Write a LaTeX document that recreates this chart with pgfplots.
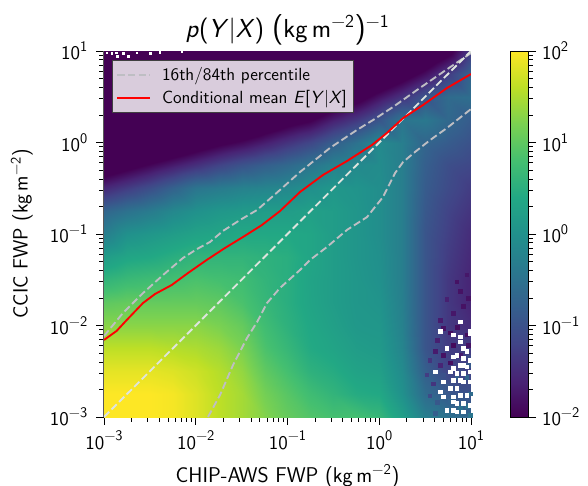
\documentclass[border=0pt]{standalone}
\usepackage{pgfplots}
\pgfplotsset{compat=1.18}
\renewcommand{\familydefault}{\sfdefault}
\definecolor{pct}{RGB}{190,190,195}
\definecolor{dia}{RGB}{222,228,222}
\newcommand{\tenp}[1]{10\raisebox{0.42em}{\fontsize{11}{11}\selectfont #1}}
\pgfplotsset{colormap={vird}{rgb255(0)=(68,1,84) rgb255(15)=(68,1,84) rgb255(19)=(72,36,117) rgb255(23)=(65,68,135) rgb255(27)=(53,95,141) rgb255(31)=(42,120,142) rgb255(35)=(33,145,140) rgb255(39)=(34,168,132) rgb255(43)=(68,191,112) rgb255(47)=(122,209,81) rgb255(51)=(189,223,38) rgb255(55)=(253,231,37)}}
\begin{document}
\begin{tikzpicture}
\path[use as bounding box] (-78pt,-51pt) rectangle (363pt,312.75pt);
\begin{axis}[
  name=main,
  scale only axis,
  width=275.25pt,height=274.5pt,
  xmode=log,ymode=log,
  xmin=1e-3,xmax=10,ymin=1e-3,ymax=10,
  xtick={1e-3,1e-2,1e-1,1,10},
  ytick={1e-3,1e-2,1e-1,1,10},
  xticklabels={\tenp{−3},\tenp{−2},\tenp{−1},\tenp{0},\tenp{1}},
  yticklabels={\tenp{−3},\tenp{−2},\tenp{−1},\tenp{0},\tenp{1}},
  axis x line*=bottom,axis y line*=left,
  axis line style={gray!70!black,-,line width=0.8pt},
  tick align=outside,
  major tick length=6pt,minor tick length=3.5pt,
  every tick/.style={black,line width=0.6pt},
  font=\sffamily\fontsize{14.5}{17}\selectfont,
  yticklabel style={xshift=-3pt},
  xticklabel style={yshift=-1pt},
  title={\textit{p}(\textit{Y}|\textit{X})\ {\fontsize{23}{23}\selectfont(}kg\,m\textsuperscript{−2}{\fontsize{23}{23}\selectfont)}\textsuperscript{−1}},
  title style={font=\sffamily\fontsize{19.5}{21}\selectfont,yshift=-5pt},
  xlabel={CHIP-AWS FWP (kg\,m\textsuperscript{−2})},
  ylabel={CCIC FWP (kg\,m\textsuperscript{−2})},
  xlabel style={font=\sffamily\fontsize{16}{18}\selectfont},
  ylabel style={font=\sffamily\fontsize{15.5}{17}\selectfont},
  xlabel shift=4pt,
  ylabel shift=6pt,
  colormap name=vird,
  point meta min=-3.5,point meta max=2,
  colorbar,
  colorbar style={
    at={(1.1063,0)},anchor=south west,
    width=13.5pt,
    ymin=-2,ymax=2,
    ytick={-2,-1,0,1,2},
    yticklabels={\tenp{−2},\tenp{−1},\tenp{0},\tenp{1},\tenp{2}},
    minor ytick={-1.699,-1.523,-1.398,-1.301,-1.222,-1.155,-1.097,-1.046,-0.699,-0.523,-0.398,-0.301,-0.222,-0.155,-0.097,-0.046,0.301,0.477,0.602,0.699,0.778,0.845,0.903,0.954,1.301,1.477,1.602,1.699,1.778,1.845,1.903,1.954},
    major tick length=6pt,minor tick length=3.5pt,
    tick align=outside,
    yticklabel pos=right,
    ytick pos=right,
    axis line style={black,line width=0.6pt},
    yticklabel style={font=\sffamily\fontsize{14.5}{17}\selectfont,xshift=1pt},
  },
  legend style={at={(0.022,0.975)},anchor=north west,
    fill=white,fill opacity=0.8,text opacity=1,draw=black!75,
    line width=0.6pt,rounded corners=0pt,
    font=\sffamily\fontsize{13.2}{15}\selectfont,
    row sep=2pt,inner sep=3pt},
  legend cell align=left,
  legend image post style={xscale=1.45},
]
\addlegendimage{pct,dash pattern=on 5.5pt off 2.5pt,line width=1.4pt}
\addlegendentry{\hspace*{6pt}16th/84th percentile}
\addlegendimage{red,line width=1.4pt}
\addlegendentry{\hspace*{6pt}Conditional mean \textit{E}[\textit{Y}|\textit{X}]}
\addplot[surf,shader=interp,mesh/cols=17,mesh/ordering=x varies,point meta=\thisrow{m},forget plot]
 table[x=x,y=y,row sep=\\]{
x y m\\
1e-3 1e-3 2\\ 1.78e-3 1e-3 2\\ 3.16e-3 1e-3 2\\ 5.62e-3 1e-3 1.95\\ 0.01 1e-3 1.8\\ 0.0178 1e-3 1.6\\ 0.0316 1e-3 1.45\\ 0.0562 1e-3 1.25\\ 0.1 1e-3 1.05\\ 0.178 1e-3 0.9\\ 0.316 1e-3 0.8\\ 0.562 1e-3 0.8\\ 1 1e-3 0.65\\ 1.78 1e-3 0.25\\ 3.16 1e-3 -0.3\\ 5.62 1e-3 -0.5\\ 10 1e-3 -0.7\\
1e-3 1.78e-3 2\\ 1.78e-3 1.78e-3 2\\ 3.16e-3 1.78e-3 2\\ 5.62e-3 1.78e-3 1.95\\ 0.01 1.78e-3 1.8\\ 0.0178 1.78e-3 1.6\\ 0.0316 1.78e-3 1.45\\ 0.0562 1.78e-3 1.15\\ 0.1 1.78e-3 0.95\\ 0.178 1.78e-3 0.75\\ 0.316 1.78e-3 0.6\\ 0.562 1.78e-3 0.45\\ 1 1.78e-3 0.4\\ 1.78 1.78e-3 0\\ 3.16 1.78e-3 -0.6\\ 5.62 1.78e-3 -0.9\\ 10 1.78e-3 -1\\
1e-3 3.16e-3 1.85\\ 1.78e-3 3.16e-3 1.85\\ 3.16e-3 3.16e-3 1.85\\ 5.62e-3 3.16e-3 1.8\\ 0.01 3.16e-3 1.7\\ 0.0178 3.16e-3 1.55\\ 0.0316 3.16e-3 1.35\\ 0.0562 3.16e-3 1\\ 0.1 3.16e-3 0.8\\ 0.178 3.16e-3 0.55\\ 0.316 3.16e-3 0.45\\ 0.562 3.16e-3 0.3\\ 1 3.16e-3 0.25\\ 1.78 3.16e-3 -0.1\\ 3.16 3.16e-3 -0.8\\ 5.62 3.16e-3 -1.2\\ 10 3.16e-3 -1.2\\
1e-3 5.62e-3 1.6\\ 1.78e-3 5.62e-3 1.6\\ 3.16e-3 5.62e-3 1.6\\ 5.62e-3 5.62e-3 1.55\\ 0.01 5.62e-3 1.5\\ 0.0178 5.62e-3 1.4\\ 0.0316 5.62e-3 1.2\\ 0.0562 5.62e-3 0.85\\ 0.1 5.62e-3 0.65\\ 0.178 5.62e-3 0.42\\ 0.316 5.62e-3 0.32\\ 0.562 5.62e-3 0.2\\ 1 5.62e-3 0.15\\ 1.78 5.62e-3 -0.2\\ 3.16 5.62e-3 -0.95\\ 5.62 5.62e-3 -1.3\\ 10 5.62e-3 -1.3\\
1e-3 0.01 1.3\\ 1.78e-3 0.01 1.3\\ 3.16e-3 0.01 1.3\\ 5.62e-3 0.01 1.3\\ 0.01 0.01 1.3\\ 0.0178 0.01 1.2\\ 0.0316 0.01 1.05\\ 0.0562 0.01 0.75\\ 0.1 0.01 0.55\\ 0.178 0.01 0.38\\ 0.316 0.01 0.25\\ 0.562 0.01 0.12\\ 1 0.01 0.1\\ 1.78 0.01 -0.25\\ 3.16 0.01 -0.95\\ 5.62 0.01 -1.35\\ 10 0.01 -1.5\\
1e-3 0.0178 1\\ 1.78e-3 0.0178 1.05\\ 3.16e-3 0.0178 1.05\\ 5.62e-3 0.0178 1.05\\ 0.01 0.0178 1.05\\ 0.0178 0.0178 1\\ 0.0316 0.0178 0.85\\ 0.0562 0.0178 0.65\\ 0.1 0.0178 0.5\\ 0.178 0.0178 0.33\\ 0.316 0.0178 0.2\\ 0.562 0.0178 0.1\\ 1 0.0178 0.05\\ 1.78 0.0178 -0.28\\ 3.16 0.0178 -0.95\\ 5.62 0.0178 -1.35\\ 10 0.0178 -1.6\\
1e-3 0.0316 0.6\\ 1.78e-3 0.0316 0.7\\ 3.16e-3 0.0316 0.75\\ 5.62e-3 0.0316 0.8\\ 0.01 0.0316 0.85\\ 0.0178 0.0316 0.8\\ 0.0316 0.0316 0.75\\ 0.0562 0.0316 0.6\\ 0.1 0.0316 0.5\\ 0.178 0.0316 0.32\\ 0.316 0.0316 0.2\\ 0.562 0.0316 0.1\\ 1 0.0316 0\\ 1.78 0.0316 -0.3\\ 3.16 0.0316 -0.95\\ 5.62 0.0316 -1.35\\ 10 0.0316 -1.6\\
1e-3 0.0562 0.2\\ 1.78e-3 0.0562 0.35\\ 3.16e-3 0.0562 0.4\\ 5.62e-3 0.0562 0.5\\ 0.01 0.0562 0.6\\ 0.0178 0.0562 0.6\\ 0.0316 0.0562 0.6\\ 0.0562 0.0562 0.55\\ 0.1 0.0562 0.5\\ 0.178 0.0562 0.35\\ 0.316 0.0562 0.2\\ 0.562 0.0562 0.08\\ 1 0.0562 -0.02\\ 1.78 0.0562 -0.3\\ 3.16 0.0562 -0.95\\ 5.62 0.0562 -1.3\\ 10 0.0562 -1.55\\
1e-3 0.1 -0.3\\ 1.78e-3 0.1 0\\ 3.16e-3 0.1 0.1\\ 5.62e-3 0.1 0.2\\ 0.01 0.1 0.3\\ 0.0178 0.1 0.35\\ 0.0316 0.1 0.4\\ 0.0562 0.1 0.4\\ 0.1 0.1 0.4\\ 0.178 0.1 0.35\\ 0.316 0.1 0.2\\ 0.562 0.1 0.08\\ 1 0.1 -0.05\\ 1.78 0.1 -0.3\\ 3.16 0.1 -0.95\\ 5.62 0.1 -1.25\\ 10 0.1 -1.5\\
1e-3 0.178 -0.7\\ 1.78e-3 0.178 -0.5\\ 3.16e-3 0.178 -0.35\\ 5.62e-3 0.178 -0.15\\ 0.01 0.178 0\\ 0.0178 0.178 0.1\\ 0.0316 0.178 0.15\\ 0.0562 0.178 0.2\\ 0.1 0.178 0.2\\ 0.178 0.178 0.25\\ 0.316 0.178 0.2\\ 0.562 0.178 0.08\\ 1 0.178 -0.05\\ 1.78 0.178 -0.3\\ 3.16 0.178 -0.9\\ 5.62 0.178 -1.2\\ 10 0.178 -1.4\\
1e-3 0.316 -1.55\\ 1.78e-3 0.316 -1.3\\ 3.16e-3 0.316 -1.05\\ 5.62e-3 0.316 -0.75\\ 0.01 0.316 -0.45\\ 0.0178 0.316 -0.35\\ 0.0316 0.316 -0.25\\ 0.0562 0.316 -0.2\\ 0.1 0.316 -0.15\\ 0.178 0.316 -0.02\\ 0.316 0.316 0.1\\ 0.562 0.316 0.05\\ 1 0.316 -0.05\\ 1.78 0.316 -0.3\\ 3.16 0.316 -0.85\\ 5.62 0.316 -1.1\\ 10 0.316 -1.3\\
1e-3 0.562 -2.45\\ 1.78e-3 0.562 -2.2\\ 3.16e-3 0.562 -1.95\\ 5.62e-3 0.562 -1.7\\ 0.01 0.562 -1.45\\ 0.0178 0.562 -1.2\\ 0.0316 0.562 -0.98\\ 0.0562 0.562 -0.8\\ 0.1 0.562 -0.65\\ 0.178 0.562 -0.45\\ 0.316 0.562 -0.25\\ 0.562 0.562 -0.12\\ 1 0.562 -0.08\\ 1.78 0.562 -0.3\\ 3.16 0.562 -0.8\\ 5.62 0.562 -1.05\\ 10 0.562 -1.15\\
1e-3 1 -3.3\\ 1.78e-3 1 -3.1\\ 3.16e-3 1 -2.85\\ 5.62e-3 1 -2.6\\ 0.01 1 -2.35\\ 0.0178 1 -2.1\\ 0.0316 1 -1.9\\ 0.0562 1 -1.65\\ 0.1 1 -1.4\\ 0.178 1 -1.15\\ 0.316 1 -0.8\\ 0.562 1 -0.5\\ 1 1 -0.12\\ 1.78 1 -0.3\\ 3.16 1 -0.7\\ 5.62 1 -0.85\\ 10 1 -1\\
1e-3 1.78 -3.5\\ 1.78e-3 1.78 -3.5\\ 3.16e-3 1.78 -3.5\\ 5.62e-3 1.78 -3.5\\ 0.01 1.78 -3.5\\ 0.0178 1.78 -3\\ 0.0316 1.78 -2.8\\ 0.0562 1.78 -2.5\\ 0.1 1.78 -2.25\\ 0.178 1.78 -2.05\\ 0.316 1.78 -1.65\\ 0.562 1.78 -1.35\\ 1 1.78 -0.95\\ 1.78 1.78 -0.45\\ 3.16 1.78 -0.4\\ 5.62 1.78 -0.65\\ 10 1.78 -0.85\\
1e-3 3.16 -3.5\\ 1.78e-3 3.16 -3.5\\ 3.16e-3 3.16 -3.5\\ 5.62e-3 3.16 -3.5\\ 0.01 3.16 -3.5\\ 0.0178 3.16 -3.5\\ 0.0316 3.16 -3.5\\ 0.0562 3.16 -3.5\\ 0.1 3.16 -3.2\\ 0.178 3.16 -2.9\\ 0.316 3.16 -2.5\\ 0.562 3.16 -2.25\\ 1 3.16 -1.8\\ 1.78 3.16 -1.4\\ 3.16 3.16 -0.95\\ 5.62 3.16 -0.6\\ 10 3.16 -0.55\\
1e-3 5.62 -3.5\\ 1.78e-3 5.62 -3.5\\ 3.16e-3 5.62 -3.5\\ 5.62e-3 5.62 -3.5\\ 0.01 5.62 -3.5\\ 0.0178 5.62 -3.5\\ 0.0316 5.62 -3.5\\ 0.0562 5.62 -3.5\\ 0.1 5.62 -3.5\\ 0.178 5.62 -3.5\\ 0.316 5.62 -3.4\\ 0.562 5.62 -3.1\\ 1 5.62 -2.7\\ 1.78 5.62 -2.3\\ 3.16 5.62 -1.85\\ 5.62 5.62 -1.3\\ 10 5.62 -0.7\\
1e-3 10 -3.5\\ 1.78e-3 10 -3.5\\ 3.16e-3 10 -3.5\\ 5.62e-3 10 -3.5\\ 0.01 10 -3.5\\ 0.0178 10 -3.5\\ 0.0316 10 -3.5\\ 0.0562 10 -3.5\\ 0.1 10 -3.5\\ 0.178 10 -3.5\\ 0.316 10 -3.5\\ 0.562 10 -3.5\\ 1 10 -3.5\\ 1.78 10 -3.2\\ 3.16 10 -2.7\\ 5.62 10 -2.2\\ 10 10 -1.3\\
};
% noisy sparse bins at high CHIP-AWS FWP
\addplot[scatter,scatter src=explicit,only marks,mark=square*,mark size=1.37pt,forget plot,
  scatter/use mapped color={draw=mapped color,fill=mapped color}] coordinates {
(4.59,0.0115)[-1.7](6.41,0.0135)[-1.75](8.25,0.0162)[-1.8](5.43,0.0195)[-1.65](7.59,0.0235)[-1.8](9.3,0.02)[-1.8](6.98,0.03)[-1.8](8.97,0.036)[-1.75]
(5,9.3e-3)[-1.8](7.05,9.6e-3)[-1.85](5.9,8.3e-3)[-1.85](8.97,7.9e-3)[-1.85](4.3,6.9e-3)[-1.65](6.41,6.1e-3)[-1.9](7.6,6.65e-3)[-1.8](9.3,6.1e-3)[-1.8]
(4.05,5.2e-3)[-1.7](5,4.76e-3)[-1.8](7.59,4.76e-3)[-1.7](9.3,4.57e-3)[-1.1](3.55,4.2e-3)[-1.4](4.59,3.7e-3)[-1.6](5.9,3.9e-3)[-1.85](6.98,3.7e-3)[-1.2]
(3.3,2.9e-3)[-1.3](5,2.9e-3)[-1.0](7.59,3.3e-3)[-1.1](9.3,3.7e-3)[-0.9](3.9,2.3e-3)[-1.4](5.43,2.2e-3)[-0.9](6.98,2.7e-3)[-0.8](8.97,2.7e-3)[-0.7]
(3.55,1.7e-3)[-1.1](4.3,1.45e-3)[-0.9](5.9,1.5e-3)[-0.7](8.97,1.3e-3)[-0.5](9.75,1.05e-3)[-0.45](9.75,1.8e-3)[-0.6](7.59,1.25e-3)[-0.5](4.05,1.1e-3)[-0.8]
};
% empty bins
\addplot[only marks,mark=square*,mark size=1.37pt,white,forget plot] coordinates {
(9.75,8.6e-3)(7.59,0.011)(4.59,8.6e-3)(6.41,7.9e-3)(7.59,7.55e-3)(9.75,8.2e-3)(7.59,6.65e-3)(5.43,5.6e-3)(8.25,5.6e-3)(8.97,5.2e-3)
(6.98,4.76e-3)(8.25,4.38e-3)(6.41,4.57e-3)(9.75,4.2e-3)(6.41,3.4e-3)(7.59,3.7e-3)(8.25,3.7e-3)(8.97,3.55e-3)(5.9,3.13e-3)(6.98,3e-3)
(8.25,3e-3)(9.75,3.13e-3)(4.05,3.13e-3)(5,2.43e-3)(6.41,2.53e-3)(7.59,2.53e-3)(8.25,2.43e-3)(9.75,2.43e-3)(5.9,2.06e-3)(6.98,2.06e-3)
(4.59,1.89e-3)(5,1.67e-3)(6.41,1.67e-3)(7.59,1.74e-3)(8.97,1.74e-3)(6.41,1.47e-3)(6.98,1.41e-3)(8.25,1.41e-3)(5.43,1.19e-3)(6.41,1.19e-3)
(8.25,1.14e-3)(9.75,1.35e-3)(6.98,1.14e-3)
};
\addplot[only marks,mark=square*,mark size=0.6pt,white,forget plot] coordinates {
(1.07e-3,9.6)(1.21e-3,9.4)(1.37e-3,9.6)(1.62e-3,9.4)(1.84e-3,8.8)(1.4e-3,8.8)(2.27e-3,9.6)(3.17e-3,9.4)(4.07e-3,9.7)(7.03e-3,9.8)
};
% 84th percentile
\addplot[pct,dash pattern=on 5.5pt off 2.5pt,line width=1.4pt,forget plot] coordinates {
(1e-3,7.67e-3)(1.61e-3,0.0137)(2.66e-3,0.0226)(4.4e-3,0.0356)(7.26e-3,0.0547)(0.0103,0.0685)(0.0143,0.0818)(0.0198,0.108)(0.0303,0.142)(0.0466,0.183)(0.0828,0.303)(0.137,0.476)(0.29,0.871)(0.571,1.37)(0.855,1.76)(1.41,2.44)(2.58,3.75)(4.95,5.89)(10,9.5)
};
% 16th percentile
\addplot[pct,dash pattern=on 5.5pt off 2.5pt,line width=1.4pt,forget plot] coordinates {
(0.0136,1e-3)(0.0184,1.74e-3)(0.0255,3.7e-3)(0.0362,7.3e-3)(0.0466,0.0109)(0.0598,0.0176)(0.0828,0.0257)(0.137,0.0405)(0.176,0.052)(0.269,0.0721)(0.446,0.111)(0.735,0.153)(1.1,0.254)(1.49,0.465)(1.82,0.612)(2.45,0.787)(3.57,1.06)(5.47,1.44)(10,2.32)
};
% one to one
\addplot[dia,dash pattern=on 5.5pt off 2.5pt,line width=1.4pt,forget plot] coordinates {(1e-3,1e-3)(10,10)};
% conditional mean
\addplot[red,line width=1.4pt,forget plot] coordinates {
(1e-3,6.95e-3)(1.37e-3,8.71e-3)(1.77e-3,0.01148)(2.66e-3,0.0176)(3.6e-3,0.0221)(5.47e-3,0.0277)(8.24e-3,0.0375)(0.01315,0.052)(0.0208,0.0703)(0.0327,0.0927)(0.0524,0.125)(0.0828,0.178)(0.137,0.288)(0.244,0.442)(0.446,0.628)(0.834,0.94)(1.21,1.27)(1.82,1.85)(3,2.57)(5.47,3.94)(10,5.6)
};
\end{axis}
\end{tikzpicture}
\end{document}
